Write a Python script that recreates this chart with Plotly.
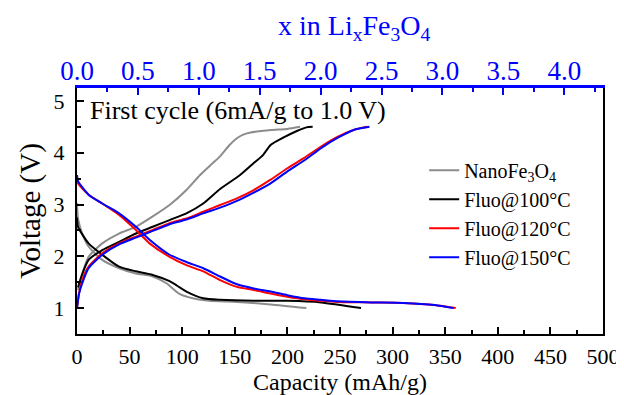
import plotly.graph_objects as go

# ---- data (capacity mAh/g, voltage V) ----
nano_ch_cap = [1, 4, 11, 24, 40, 56, 72, 88, 104, 117, 128, 136, 145, 152, 158, 165, 171, 185, 200, 212]
nano_ch_v   = [1.35, 1.6, 1.99, 2.25, 2.44, 2.57, 2.77, 2.99, 3.28, 3.57, 3.78, 3.93, 4.15, 4.28, 4.35, 4.39, 4.41, 4.44, 4.46, 4.5]
nano_dis_cap = [0, 1, 5, 11, 24, 40, 56, 72, 85, 97, 110, 126, 152, 184, 218]
nano_dis_v   = [3.03, 2.72, 2.44, 2.19, 1.93, 1.77, 1.67, 1.61, 1.48, 1.28, 1.19, 1.14, 1.12, 1.07, 1.0]

f100_ch_cap = [1, 4, 11, 24, 40, 56, 72, 88, 104, 120, 136, 155, 168, 177, 184, 196, 209, 218, 224]
f100_ch_v   = [1.4, 1.6, 1.93, 2.12, 2.28, 2.44, 2.57, 2.70, 2.83, 3.02, 3.30, 3.57, 3.80, 3.96, 4.15, 4.29, 4.42, 4.49, 4.5]
f100_dis_cap = [0, 1, 11, 24, 40, 56, 72, 88, 104, 120, 136, 168, 200, 232, 270]
f100_dis_v   = [2.75, 2.57, 2.25, 2.03, 1.80, 1.71, 1.64, 1.52, 1.32, 1.19, 1.16, 1.14, 1.14, 1.11, 1.0]

f120_ch_cap = [0, 2, 5, 11, 24, 40, 56, 72, 88, 104, 120, 136, 152, 168, 184, 200, 216, 232, 248, 263, 276]
f120_ch_v   = [1.0, 1.3, 1.54, 1.80, 2.06, 2.25, 2.38, 2.51, 2.64, 2.73, 2.86, 2.99, 3.12, 3.28, 3.48, 3.70, 3.90, 4.12, 4.31, 4.44, 4.5]
f120_dis_cap = [0, 1, 11, 24, 40, 56, 69, 88, 104, 120, 136, 152, 168, 184, 200, 216, 232, 248, 280, 310, 340, 360]
f120_dis_v   = [3.55, 3.41, 3.19, 3.02, 2.80, 2.51, 2.25, 1.99, 1.83, 1.71, 1.54, 1.41, 1.35, 1.28, 1.22, 1.17, 1.14, 1.12, 1.11, 1.10, 1.06, 1.0]

f150_ch_cap = [0, 2, 5, 11, 24, 40, 56, 72, 88, 104, 120, 136, 152, 168, 184, 200, 216, 232, 248, 263, 278]
f150_ch_v   = [1.0, 1.28, 1.48, 1.77, 2.03, 2.23, 2.36, 2.49, 2.62, 2.71, 2.83, 2.94, 3.07, 3.23, 3.41, 3.64, 3.85, 4.09, 4.29, 4.44, 4.5]
f150_dis_cap = [0, 1, 11, 24, 40, 56, 69, 88, 104, 120, 136, 152, 168, 184, 200, 216, 232, 248, 280, 310, 340, 358]
f150_dis_v   = [3.57, 3.45, 3.19, 3.02, 2.83, 2.57, 2.32, 2.03, 1.89, 1.77, 1.61, 1.46, 1.38, 1.32, 1.25, 1.19, 1.16, 1.13, 1.11, 1.10, 1.06, 1.0]

series = [
    ("NanoFe<sub>3</sub>O<sub>4</sub>", "#8c8c8c", nano_ch_cap, nano_ch_v, nano_dis_cap, nano_dis_v),
    ("Fluo@100°C", "#000000", f100_ch_cap, f100_ch_v, f100_dis_cap, f100_dis_v),
    ("Fluo@120°C", "#ff0000", f120_ch_cap, f120_ch_v, f120_dis_cap, f120_dis_v),
    ("Fluo@150°C", "#0000ff", f150_ch_cap, f150_ch_v, f150_dis_cap, f150_dis_v),
]

MAH_PER_LI = 115.8
X_MAX = 500

FONT = "Liberation Serif, Times New Roman, DejaVu Serif, serif"
fig = go.Figure()
for name, color, cc, cv, dc, dv in series:
    fig.add_trace(go.Scatter(x=cc, y=cv, mode="lines", name=name, legendgroup=name,
                             line=dict(color=color, width=2, shape="spline", smoothing=0.6)))
    fig.add_trace(go.Scatter(x=dc, y=dv, mode="lines", name=name, legendgroup=name, showlegend=False,
                             line=dict(color=color, width=2, shape="spline", smoothing=0.6)))

# dummy trace for top axis
fig.add_trace(go.Scatter(x=[0], y=[None], xaxis="x2", showlegend=False, hoverinfo="skip"))

fig.update_layout(
    width=624, height=395,
    margin=dict(l=69, r=29, t=80, b=69, autoexpand=False),
    paper_bgcolor="white", plot_bgcolor="white",
    font=dict(family=FONT, color="black"),
    showlegend=True,
    legend=dict(x=0.66, y=0.745, xanchor="left", yanchor="top",
                font=dict(family=FONT, size=20, color="black"),
                bgcolor="rgba(0,0,0,0)", tracegroupgap=0),
    xaxis=dict(range=[0, X_MAX], dtick=50, tick0=0, showgrid=False, zeroline=False, automargin=False,
               showline=True, linecolor="black", linewidth=2,
               ticks="inside", ticklen=7, tickwidth=1.5, tickcolor="black", ticklabelstandoff=2,
               minor=dict(dtick=25, ticks="inside", ticklen=4, tickwidth=1.5, tickcolor="black"),
               tickfont=dict(family=FONT, size=22),
               title=dict(text="Capacity (mAh/g)", font=dict(family=FONT, size=24), standoff=1)),
    xaxis2=dict(overlaying="x", side="top", range=[0, X_MAX / MAH_PER_LI], dtick=0.5, tick0=0,
                tickformat=".1f", showgrid=False, zeroline=False, automargin=False,
                showline=True, linecolor="#0000ff", linewidth=3,
                ticks="inside", ticklen=7, tickwidth=1.5, tickcolor="#0000ff", ticklabelstandoff=-6,
                minor=dict(dtick=0.25, ticks="inside", ticklen=4, tickwidth=1.5, tickcolor="#0000ff"),
                tickfont=dict(family=FONT, size=27, color="#0000ff")),
    yaxis=dict(range=[0.5, 5.25], dtick=1, tick0=0, showgrid=False, zeroline=False, automargin=False,
               showline=True, linecolor="black", linewidth=2, mirror=True,
               ticks="inside", ticklen=7, tickwidth=1.5, tickcolor="black", ticklabelstandoff=6,
               minor=dict(dtick=0.5, ticks="inside", ticklen=4, tickwidth=1.5, tickcolor="black"),
               tickfont=dict(family=FONT, size=22),
               title=dict(text="Voltage (V)", font=dict(family=FONT, size=29), standoff=4)),
    annotations=[
        dict(text="First cycle (6mA/g to 1.0 V)", xref="paper", yref="paper",
             x=0.02, y=0.91, xanchor="left", yanchor="middle", showarrow=False,
             font=dict(family=FONT, size=26, color="black")),
        dict(text="x in Li<sub>x</sub>Fe<sub>3</sub>O<sub>4</sub>", xref="paper", yref="paper",
             x=0.528, y=1.245, xanchor="center", yanchor="middle", showarrow=False,
             font=dict(family=FONT, size=28, color="#0000ff")),
    ],
)

fig.write_html("out.html")
